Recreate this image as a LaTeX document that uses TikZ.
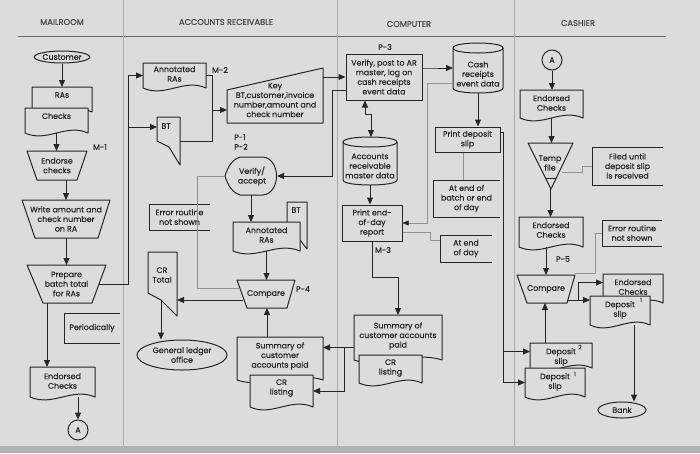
\documentclass[tikz,border=0pt]{standalone}
\usepackage{fontspec}
\setmainfont{Poppins}[UprightFeatures={FakeBold=0.45}]
\usetikzlibrary{arrows.meta,shapes.geometric,calc}
\definecolor{paper}{HTML}{DEDCD8}
\definecolor{ink}{HTML}{262626}
\definecolor{lane}{HTML}{AEACA9}
\tikzset{
 box/.style={rectangle,inner sep=0pt,outer sep=0pt,draw=none},
 shp/.style={draw=ink,fill=paper,line width=1pt,line join=round},
 txt/.style={align=center,inner sep=0pt,font=\fontsize{7.9}{9.6}\selectfont,text=ink},
 lbl/.style={inner sep=0pt,align=left,font=\fontsize{7.9}{9.6}\selectfont,text=ink},
 sup/.style={inner sep=0pt,font=\fontsize{6}{6}\selectfont,text=ink},
 hdr/.style={inner sep=0pt,font=\fontsize{8.3}{10}\selectfont,text=ink!85},
 term/.style={ellipse,draw=ink,fill=paper,line width=1pt,inner sep=0pt,align=center,font=\fontsize{7.9}{9.6}\selectfont,text=ink},
 circ/.style={circle,draw=ink,fill=paper,line width=1pt,inner sep=0pt,minimum size=20pt,font=\fontsize{7.9}{9.6}\selectfont,text=ink},
 rect/.style={rectangle,draw=ink,fill=paper,line width=1pt,inner sep=0pt,align=center,font=\fontsize{7.9}{9.6}\selectfont,text=ink},
 con/.style={draw=ink,line width=1pt},
 arr/.style={con,-{Triangle[length=7pt,width=6pt]}},
 dbl/.style={con,{Triangle[length=7pt,width=6pt]}-{Triangle[length=7pt,width=6pt]}},
 faint/.style={draw=lane!85!black,line width=0.5pt},
 farr/.style={faint,-{Triangle[length=6pt,width=5pt,color=ink]}},
 ann/.style={draw=ink,line width=0.9pt},
}
\newcommand\mydoc[7]{%
 \node[box,minimum width={(#4-#2)*1pt},minimum height={(#5-#3)*1pt}] (#1) at ({(#2+#4)/2},{(#3+#5)/2}) {};
 \filldraw[shp] (#2,#3) -- (#4,#3) -- (#4,#5) .. controls ({#2+0.65*(#4-#2)},{#5-10}) and ({#2+0.35*(#4-#2)},{#5+10}) .. (#2,#5) -- cycle;
 \node[txt] (#1-t) at ({(#2+#4)/2},#6) {#7};}
\newcommand\mytrap[8]{%
 \node[box,minimum width={(#3-#2)*1pt},minimum height={(#7-#4)*1pt}] (#1) at ({(#2+#3)/2},{(#4+#7)/2}) {};
 \filldraw[shp] (#2,#4) -- (#3,#4) -- (#6,#7) -- (#5,#7) -- cycle;
 \node[txt] (#1-t) at ({(#2+#3)/2},{(#4+#7)/2}) {#8};}
\newcommand\mycyl[7]{%
 \node[box,minimum width={(#4-#2)*1pt},minimum height={(#5-#3)*1pt}] (#1) at ({(#2+#4)/2},{(#3+#5)/2}) {};
 \filldraw[shp] (#2,{#3+5}) -- (#2,{#5-5}) .. controls (#2,{#5+1.67}) and (#4,{#5+1.67}) .. (#4,{#5-5}) -- (#4,{#3+5}) .. controls (#4,{#3-1.67}) and (#2,{#3-1.67}) .. cycle;
 \draw[shp,fill=none] (#2,{#3+5}) .. controls (#2,{#3+11.67}) and (#4,{#3+11.67}) .. (#4,{#3+5});
 \node[txt] (#1-t) at ({(#2+#4)/2},#6) {#7};}
\newcommand\myann[6]{%
 \node[box,minimum width={(#4-#2)*1pt},minimum height={(#5-#3)*1pt}] (#1) at ({(#2+#4)/2},{(#3+#5)/2}) {};
 \draw[ann] (#4,#3) -- (#2,#3) -- (#2,#5) -- (#4,#5);
 \node[txt] (#1-t) at ({(#2+#4)/2},{(#3+#5)/2}) {#6};}
\begin{document}
\begin{tikzpicture}[x=1pt,y=-1pt]
\useasboundingbox (0,0) rectangle (700,453);
\fill[paper] (0,0) rectangle (700,453);
\fill[black!30] (0,446) rectangle (700,453);
% headers and lanes
\node[hdr] (h1) at (62,22) {MAILROOM};
\node[hdr] (h2) at (226,22) {ACCOUNTS RECEIVABLE};
\node[hdr] (h3) at (409,24) {COMPUTER};
\node[hdr] (h4) at (578,23) {CASHIER};
\draw[ink!70,line width=0.6pt] (18,36) -- (666,36);
\draw[lane,line width=0.6pt] (123,0) -- (123,446) (337,0) -- (337,446) (514,0) -- (514,446);
% ---------------- MAILROOM
\node[term,minimum width=51pt,minimum height=12pt] (cust) at (62,57) {Customer};
\mydoc{ras}{32}{87}{92}{112}{95}{RAs}
\mydoc{chk}{25}{108}{88}{133}{116}{Checks}
\draw[arr] (cust.south) -- (cust.south |- ras.north);
\mytrap{endo}{27}{87}{151}{37}{77}{180}{Endorse\\checks}
\draw[arr] (chk.south) -- (chk.south |- endo.north);
\node[lbl] (m1) at (100,147) {M-1};
\mytrap{wr}{22}{110}{200}{35}{98}{238}{Write amount and\\check number\\on RA}
\mytrap{prep}{27}{106}{265}{43}{92}{303}{Prepare\\batch total\\for RAs}
\draw[arr] (endo.south -| wr.north) -- (wr.north);
\draw[arr] (wr.south -| prep.north) -- (prep.north);
\mydoc{endc}{30}{367}{95}{397}{381}{Endorsed\\Checks}
\node[circ] (ca) at (78,430) {A};
\coordinate (p1) at ($(prep.south)+(-19.5,0)$);
\draw[arr] (p1) -- (p1 |- endc.north);
\draw[arr] (ca.north |- endc.south) -- (ca.north);
\myann{per}{64}{313}{120}{343}{Periodically}
% ---------------- ACCOUNTS RECEIVABLE
\mydoc{an1}{143}{63}{206}{88}{74}{Annotated\\RAs}
\node[lbl] (m2) at (220,70) {M-2};
\node[box,minimum width=23pt,minimum height=48pt] (bt1) at (168.5,141) {};
\filldraw[shp] (157,117) -- (180,117) -- (180,165) -- (169,147) -- (157,141) -- cycle;
\node[txt] (bt1-t) at (166,126) {BT};
\coordinate (sp) at (128,127);
\draw[con] ($(prep.east)+(-7,0)$) -| (sp);
\draw[arr] (sp) |- (an1.west);
\draw[arr] (sp) -- (sp -| bt1.west);
\node[box,minimum width=96pt,minimum height=55pt] (key) at (275,95.5) {};
\filldraw[shp] (227,90) -- (323,68) -- (323,123) -- (227,123) -- cycle;
\node[txt] (key-t) at (275,100) {Key\\BT,customer,invoice\\number,amount and\\check number};
\coordinate (mj) at (212,110);
\draw[con] (an1.east) -| (mj);
\draw[con] (bt1.east) -| (mj);
\draw[arr] (mj) -- (mj -| key.west);
\node[lbl] (p12) at (241,142) {P-1\\P-2};
\node[box,minimum width=52pt,minimum height=38pt] (va) at (251,176) {};
\filldraw[shp] (225,176) .. controls (228,166) and (233,159) .. (240,157) -- (263,157) .. controls (281,159) and (281,193) .. (263,195) -- (240,195) .. controls (233,193) and (228,186) .. cycle;
\node[txt] (va-t) at (252,176) {Verify/\\accept};
\myann{er1}{149}{204}{210}{230}{Error routine\\not shown}
\node[box,minimum width=20pt,minimum height=46pt] (bt2) at (297,225) {};
\filldraw[shp] (287,202) -- (307,202) -- (307,249) -- (300,240) -- (287,236) -- cycle;
\node[txt] (bt2-t) at (296,210) {BT};
\mydoc{an2}{233}{222}{300}{251}{235}{Annotated\\RAs}
\mytrap{cmp1}{237}{295}{280}{247}{287}{308}{Compare}
\node[lbl] (p4) at (303,289) {P-4};
\draw[arr] (va.south) -- (va.south |- an2.north);
\draw[arr] (an2.south) -- (an2.south |- cmp1.north);
\coordinate (fc2) at ($(cmp1.west)+(3,-6)$);
\coordinate (fc) at (197,0);
\draw[faint] (va.west) -| (fc |- fc2) -- (fc2);
\node[box,minimum width=29pt,minimum height=64pt] (crt) at (162.5,284) {};
\filldraw[shp] (148,252) -- (177,252) -- (177,316) -- (161,300) -- (148,293) -- cycle;
\node[txt] (crt-t) at (162,275) {CR\\Total};
\draw[arr] ($(cmp1.west)+(6,6)$) -- ($(crt.east)+(0,16)$);
\node[term,minimum width=90pt,minimum height=30pt] (glo) at (182,355) {General ledger\\office};
\coordinate (cg) at ($(crt.south)+(-1.5,-16)$);
\draw[arr] (cg) -- (cg |- glo.north);
\mydoc{sum1}{237}{337}{323}{380}{356}{Summary of\\customer\\accounts paid}
\mydoc{crl1}{250}{375}{313}{407}{388}{CR\\listing}
\coordinate (s1) at ($(sum1.north)+(-13,0)$);
\draw[arr] (s1) -- (s1 |- cmp1.south);
% ---------------- COMPUTER
\node[lbl] (p3) at (385,47) {P-3};
\node[rect,minimum width=76pt,minimum height=46pt] (vp) at (384,77) {Verify, post to AR\\master, log on\\cash receipts\\event data};
\draw[arr] (key.east |- vp.west) -- (vp.west);
\coordinate (vj) at (332,176);
\draw[arr] ($(vp.west)+(0,13)$) -| (vj) -- (va.east);
\mycyl{crd}{453}{43}{503}{93}{74}{Cash\\receipts\\event data}
\coordinate (vj2) at ($(vp.east)+(8,-9)$);
\draw[arr] ($(vp.east)+(0,-9)$) -- (vj2) |- (crd.west);
\mycyl{ardb}{343}{137}{397}{185}{166}{Accounts\\receivable\\master data}
\coordinate (d1) at ($(vp.south)+(-19,0)$);
\coordinate (d2) at ($(ardb.north)+(1,0)$);
\draw[dbl] (d1) -- ++(0,14) -| (d2);
\node[rect,minimum width=60pt,minimum height=36pt] (pe) at (372,223) {Print end-\\of-day\\report};
\draw[arr] (ardb.south) -- (ardb.south |- pe.north);
\node[lbl] (m3) at (383,250) {M-3};
\mydoc{sum2}{354}{315}{442}{360}{336}{Summary of\\customer accounts\\paid}
\mydoc{crl2}{359}{355}{422}{383}{368}{CR\\listing}
\draw[arr] (pe.south) |- ($(sum2.north)+(0,-38)$) -- (sum2.north);
\coordinate (s2w) at ($(sum2.west)+(0,10)$);
\draw[arr] (s2w) -- (s2w -| sum1.east);
\coordinate (s2b) at ($(s2w)+(-10,0)$);
\draw[arr] (s2b) |- (crl1.east);
\node[rect,minimum width=65pt,minimum height=25pt] (prd) at (467.5,139.5) {Print deposit\\slip};
\draw[arr] (crd.south) -- (crd.south |- prd.north);
\draw[farr] ($(crd.west)+(0,15)$) -| ($(pe.east)+(25,0)$) -- (pe.east);
\myann{ae1}{433}{180}{500}{217}{At end of\\batch or end\\of day}
\coordinate (pl) at ($(prd.south)+(-4,0)$);
\draw[faint] (pl) -- (pl |- ae1.north);
\myann{ae2}{440}{235}{492}{262}{At end\\of day}
\coordinate (q1) at ($(pe.east)+(28,9)$);
\draw[faint] ($(pe.east)+(0,9)$) -- (q1) |- ($(ae2.west)+(0,-8.5)$);
% ---------------- CASHIER
\node[circ] (ca2) at (552,60) {A};
\mydoc{ec1}{520}{90}{583}{118}{103}{Endorsed\\Checks}
\draw[arr] (ca2.south) -- (ca2.south |- ec1.north);
\node[box,minimum width=45pt,minimum height=46pt] (tf) at (550.5,166) {};
\filldraw[shp] (528,143) -- (573,143) -- (551,189) -- cycle;
\draw[shp] (545.5,178) -- (556.3,178);
\node[txt] (tf-t) at (550,163) {Temp\\file};
\draw[arr] (ec1.south) -- (ec1.south |- tf.north);
\myann{fil}{592}{147}{663}{185}{Filed until\\deposit slip\\is received}
\coordinate (tl) at ($(tf.center)+(11.5,6)$);
\draw[faint] (tl) -- ++(20,0) |- (fil.west);
\mydoc{ec2}{519}{217}{583}{247}{230}{Endorsed\\Checks}
\draw[arr] (tf.south) -- (tf.south |- ec2.north);
\node[lbl] (p5) at (563,259) {P-5};
\mytrap{cmp2}{517}{575}{275}{527}{567}{303}{Compare}
\draw[arr] (ec2.south -| cmp2.north) -- (cmp2.north);
\myann{er2}{602}{220}{662}{246}{Error routine\\not shown}
\coordinate (e2) at ($(cmp2.north east)+(0,-2)$);
\draw[faint] (er2.west) -- ++(-7,0) |- (e2);
\mydoc{ec3}{603}{274}{663}{303}{287}{Endorsed\\Checks}
\mydoc{ds1a}{590}{296}{650}{325}{310}{Deposit\\slip}
\node[sup] (ds1a-n) at (641,300) {1};
\coordinate (cj2) at (578,300);
\draw[con] ($(cmp2.east)+(-7,11)$) -- (cj2);
\draw[arr] (cj2) |- ($(ec3.west)+(0,-6)$);
\draw[arr] (cj2) -- (cj2 -| ds1a.west);
\node[term,minimum width=48pt,minimum height=16pt] (bank) at (622,410) {Bank};
\coordinate (bk) at ($(ds1a.south)+(14,0)$);
\draw[arr] (bk) -- (bk |- bank.north);
\mydoc{ds2}{530}{343}{592}{368}{357}{Deposit\\slip}
\node[sup] (ds2-n) at (580,347) {2};
\mydoc{ds1b}{525}{368}{585}{397}{382}{Deposit\\slip}
\node[sup] (ds1b-n) at (575,374) {1};
\coordinate (d2t) at ($(ds2.north)+(-16,0)$);
\draw[arr] (d2t) -- (d2t |- cmp2.south);
\coordinate (cx) at (503,0);
\coordinate (ds2a) at ($(ds2.west)+(0,-4)$);
\draw[arr] ($(prd.east)+(0,-7)$) -| (cx |- ds2a) -- (ds2a);
\draw[arr] (cx |- ds2a) |- (ds1b.west);
\end{tikzpicture}
\end{document}
